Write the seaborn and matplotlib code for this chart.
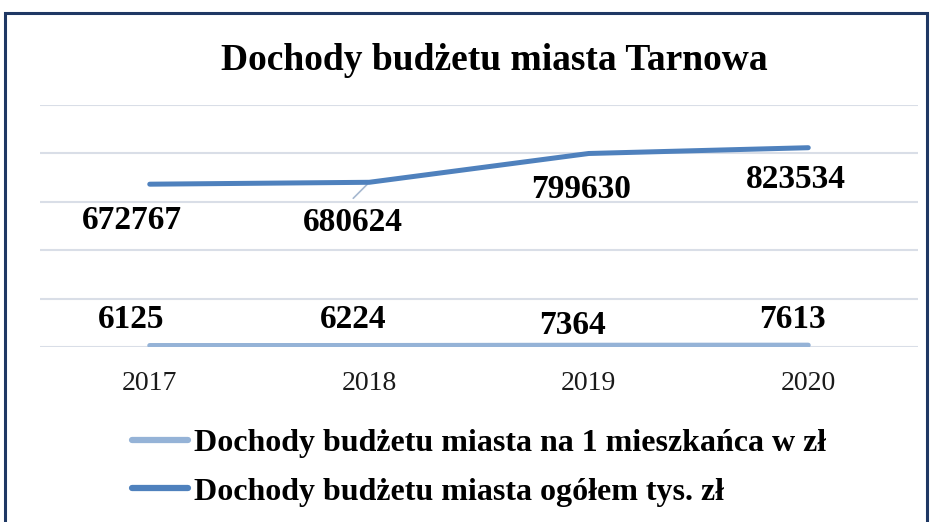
import matplotlib
matplotlib.use("Agg")
import matplotlib.pyplot as plt
import seaborn as sns
import pandas as pd
from matplotlib.patches import Rectangle
from matplotlib.lines import Line2D

years = ["2017", "2018", "2019", "2020"]
per_resident = [6125, 6224, 7364, 7613]
total = [672767, 680624, 799630, 823534]
series_names = ["Dochody budżetu miasta na 1 mieszkańca w zł",
                "Dochody budżetu miasta ogółem tys. zł"]
title = "Dochody budżetu miasta Tarnowa"

sns.set_theme(style="white")
plt.rcParams['font.family'] = ['Liberation Serif', 'DejaVu Serif']
plt.rcParams['text.color'] = 'black'

df = pd.DataFrame({
    "year": years * 2,
    "value": per_resident + total,
    "series": [series_names[0]] * 4 + [series_names[1]] * 4,
})

colors = {series_names[0]: "#95B3D7", series_names[1]: "#4F81BD"}

fig = plt.figure(figsize=(9.32, 5.22), dpi=100)
ax = fig.add_axes([40 / 932, 1 - 347 / 522, 878 / 932, 242 / 522])

sns.lineplot(data=df, x="year", y="value", hue="series", palette=colors,
             linewidth=3.6, ax=ax, legend=False, sort=False,
             solid_capstyle="round")

ax.set_ylim(0, 1000000)
ax.set_xlim(-0.5, 3.5)
ax.set_yticks([0, 200000, 400000, 600000, 800000, 1000000])
ax.yaxis.grid(True, color="#D9DEE7", linewidth=1.5)
ax.set_axisbelow(True)
ax.tick_params(axis="y", left=False, labelleft=False)
ax.tick_params(axis="x", bottom=False, labelsize=20, pad=11)
for s in ax.spines.values():
    s.set_visible(False)
ax.set_xlabel("")
ax.set_ylabel("")
for lbl in ax.get_xticklabels():
    lbl.set_color("#1a1a1a")

for ln in ax.get_lines():
    ln.set_zorder(3)

# data labels
tot_off = [(-18, -36), (-16, -40), (-8, -36), (-12, -32)]
per_off = [(-19, 26), (-16, 26), (-16, 20), (-16, 26)]
for i, (y_t, y_p) in enumerate(zip(total, per_resident)):
    ax.annotate(str(y_t), (i, y_t), xytext=tot_off[i], textcoords="offset pixels",
                ha="center", va="center", fontsize=24, fontweight="bold",
                color="black", zorder=5)
    ax.annotate(str(y_p), (i, y_p), xytext=per_off[i], textcoords="offset pixels",
                ha="center", va="center", fontsize=24, fontweight="bold",
                color="black", zorder=5)

# leader line for 2018 total label
ax.annotate("", (1, total[1]), xytext=(-16, -16), textcoords="offset pixels",
            arrowprops=dict(arrowstyle="-", color="#A6B8D0", lw=1.2,
                            shrinkA=0, shrinkB=0), zorder=2)

fig.text(494 / 932, 1 - 60 / 522, title, ha="center", va="center",
         fontsize=27, fontweight="bold", color="black")

# legend
handles = [Line2D([0], [0], color=colors[n], lw=4.5, solid_capstyle="round")
           for n in series_names]
leg = fig.legend(handles, series_names, loc="upper left",
                 bbox_to_anchor=(103 / 932, 1 - 400 / 522), frameon=False,
                 prop={"size": 23, "weight": "bold"}, handlelength=1.75,
                 handletextpad=0.2, labelspacing=0.6, labelcolor="black")

# border
fig.patches.append(Rectangle((5 / 932, -0.1), 922 / 932, 1.1 - 13 / 522,
                             transform=fig.transFigure, fill=False,
                             edgecolor="#1F3864", linewidth=2.2))

fig.savefig("out.png", dpi=100)
